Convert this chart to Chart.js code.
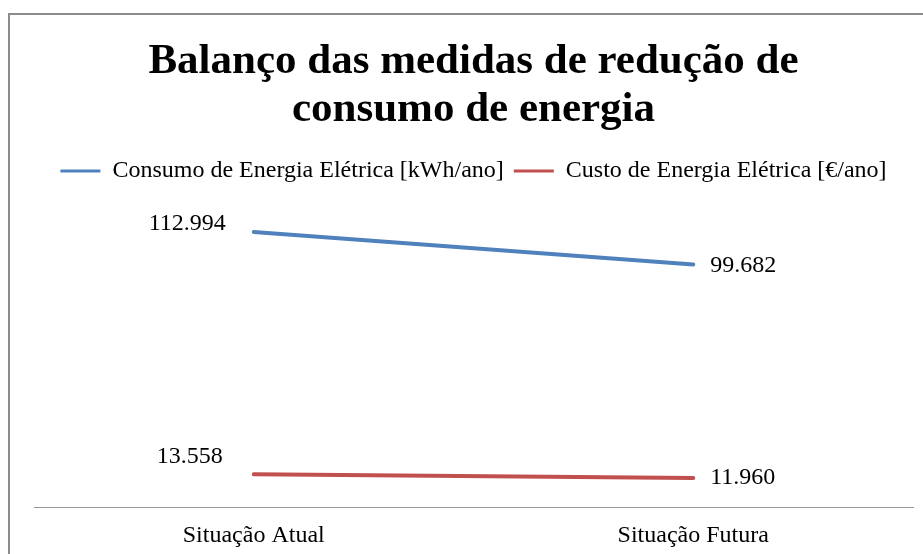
<!DOCTYPE html>
<html>
<head>
<meta charset="utf-8">
<script src="https://cdn.jsdelivr.net/npm/chart.js@4/dist/chart.umd.min.js"></script>
<style>
	html, body { margin: 0; padding: 0; overflow: hidden; background: #fff; width: 923px; height: 554px; }
	#frame { position: absolute; left: 8px; top: 13px; width: 960px; height: 600px; border: 2px solid #8c8c8c; }
	#chart-parent { position: absolute; left: 10px; top: 15px; width: 932px; height: 545px; }
</style>
</head>
<body>
<div id="frame"></div>
<div id="chart-parent"><canvas id="chart" width="932" height="545"></canvas></div>
<script>
const categories = ['Situação Atual', 'Situação Futura'];
const seriesNames = ['Consumo de Energia Elétrica [kWh/ano]', 'Custo de Energia Elétrica [€/ano]'];
const consumoValues = [112994, 99682];
const custoValues = [13558, 11960];
const titleLines = ['Balanço das medidas de redução de', 'consumo de energia'];

const serif = "'Liberation Serif', 'Times New Roman', serif";

function formatValue(v) {
	return v.toLocaleString('de-DE');
}

// deslocamento dos rótulos (x, y) para cada série: primeiro ponto / segundo ponto
const labelOffsets = [
	[[-28, -8], [17, 1]],
	[[-31, -17], [17, 0]]
];

const dataLabels = {
	id: 'dataLabels',
	afterDatasetsDraw(chart) {
		const ctx = chart.ctx;
		ctx.save();
		ctx.font = '24px ' + serif;
		ctx.fillStyle = '#000';
		ctx.textBaseline = 'middle';
		chart.data.datasets.forEach(function(ds, i) {
			const meta = chart.getDatasetMeta(i);
			meta.data.forEach(function(pt, j) {
				const off = labelOffsets[i][j];
				ctx.textAlign = (j == 0) ? 'right' : 'left';
				ctx.fillText(formatValue(ds.data[j]), pt.x + off[0], pt.y + off[1]);
			});
		});
		ctx.restore();
	}
};

function legendItems(chart) {
	const items = Chart.defaults.plugins.legend.labels.generateLabels(chart);
	items.forEach(function(item) {
		item.lineWidth = 0;
	});
	return items;
}

new Chart(document.getElementById('chart'), {
	type: 'line',
	data: {
		labels: categories,
		datasets: [{
			label: seriesNames[0],
			data: consumoValues,
			borderColor: '#4f81bd',
			backgroundColor: '#4f81bd',
			borderWidth: 4,
			borderCapStyle: 'round',
			pointRadius: 0,
			tension: 0
		}, {
			label: seriesNames[1],
			data: custoValues,
			borderColor: '#c0504d',
			backgroundColor: '#c0504d',
			borderWidth: 4,
			borderCapStyle: 'round',
			pointRadius: 0,
			tension: 0
		}]
	},
	options: {
		responsive: false,
		animation: false,
		layout: {
			padding: { top: 0, left: 24, right: 29, bottom: 4 }
		},
		plugins: {
			title: {
				display: true,
				text: titleLines,
				color: '#000',
				font: { family: serif, size: 43, weight: 'bold', lineHeight: 1.116 },
				padding: { top: 23, bottom: 15 }
			},
			legend: {
				position: 'top',
				labels: {
					color: '#000',
					font: { family: serif, size: 24 },
					boxWidth: 40,
					boxHeight: 3,
					padding: 10,
					generateLabels: legendItems
				}
			},
			tooltip: { enabled: false }
		},
		scales: {
			x: {
				offset: true,
				grid: { display: false },
				border: { display: true, color: '#999', width: 1 },
				ticks: {
					color: '#000',
					font: { family: serif, size: 24 },
					padding: 6
				}
			},
			y: {
				display: false,
				min: 0,
				max: 129000
			}
		}
	},
	plugins: [dataLabels]
});
</script>
</body>
</html>
